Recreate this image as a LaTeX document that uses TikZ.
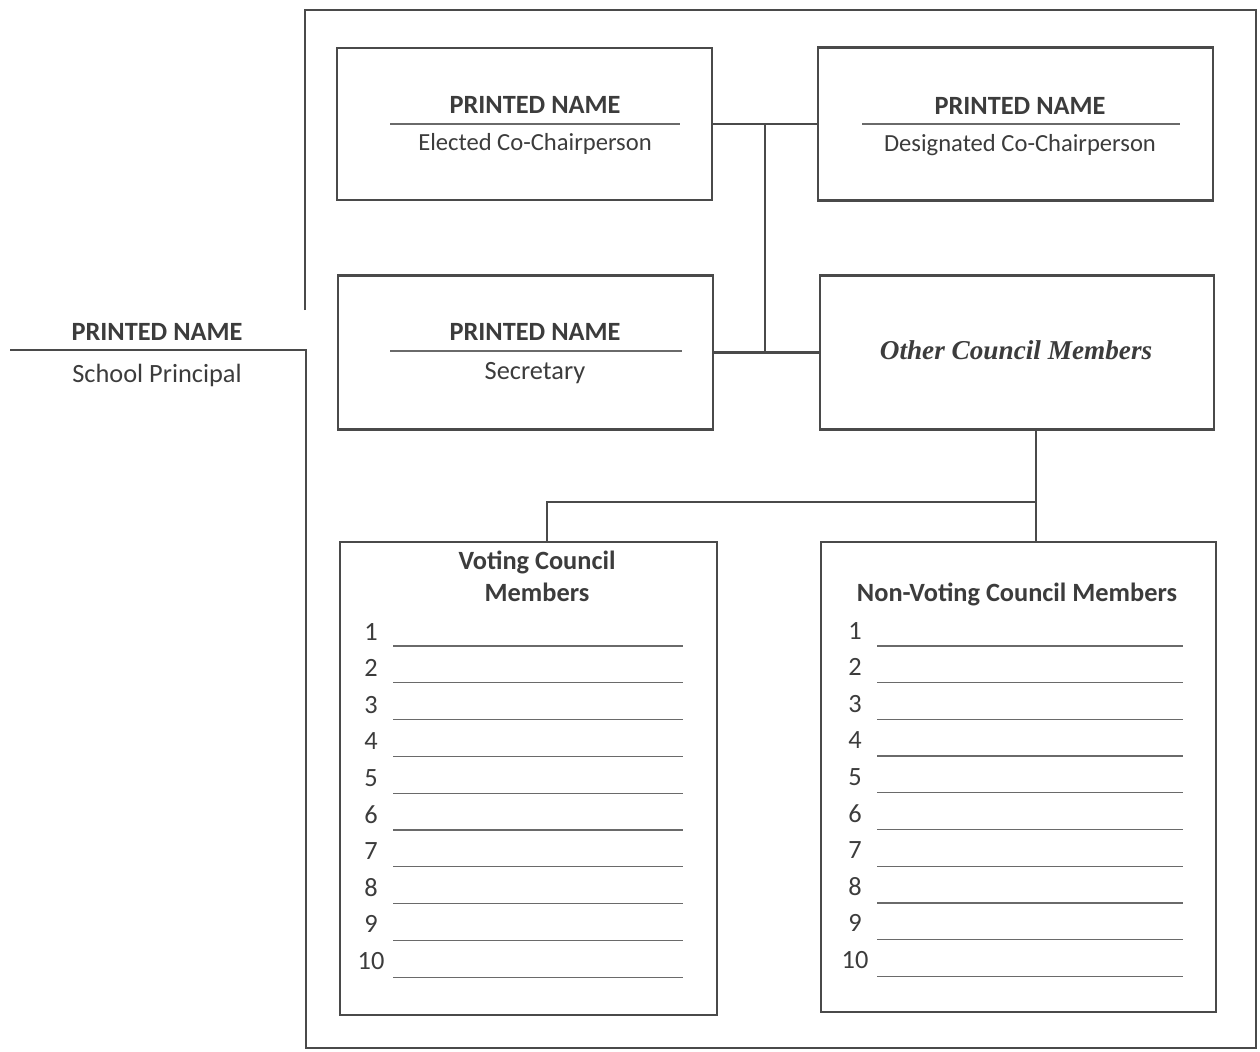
\documentclass[tikz,border=0pt]{standalone}
\usepackage{fontspec}
\setsansfont{Carlito}
\newfontfamily\otherfont{Liberation Serif}
\usetikzlibrary{calc}

\definecolor{ink}{HTML}{3C3C3C}
\definecolor{edge}{HTML}{4A4A4A}
\definecolor{faint}{HTML}{6A6A6A}

\begin{document}
\begin{tikzpicture}[x=0.02cm, y=-0.02cm,
	every node/.style={text=ink, inner sep=0pt},
	card/.style={draw=edge, line width=1.2pt},
	head/.style={anchor=base, font=\sffamily\bfseries\fontsize{15}{18}\selectfont},
	role/.style={anchor=base, font=\sffamily\fontsize{14}{17}\selectfont},
	num/.style={anchor=base, font=\sffamily\fontsize{15}{18}\selectfont},
	rule/.style={draw=faint, line width=0.8pt},
	blank/.style={draw=faint, line width=0.7pt},
	link/.style={draw=edge, line width=1.3pt}]

	\useasboundingbox (0, 0) rectangle (1260, 1051);

	% Outer frame w/ principal line

	\draw [link, line width=1pt] (305, 310) -- (305, 10) -- (1256, 10) -- (1256, 1048) -- (306, 1048) -- (306, 350) -- (10, 350);
	\node [head] (princname) at (157, 340) {PRINTED NAME};
	\node [role, font=\sffamily\fontsize{15}{18}\selectfont] (princrole) at (157, 382) {School Principal};

	% Name cards

	\node [card, minimum width=7.5cm, minimum height=3.04cm] (elected) at (524.5, 124) {};
	\node [head] (electedname) at (535, 113) {PRINTED NAME};
	\node [role] (electedrole) at (535, 150) {Elected Co-Chairperson};
	\draw [rule] (390, 124) -- (680, 124);

	\node [card, minimum width=7.9cm, minimum height=3.06cm] (designated) at (1015.5, 124) {};
	\node [head] (designatedname) at (1020, 114) {PRINTED NAME};
	\node [role] (designatedrole) at (1020, 151) {Designated Co-Chairperson};
	\draw [rule] (862, 124) -- (1180, 124);

	\node [card, minimum width=7.5cm, minimum height=3.08cm] (secretary) at (525.5, 352.5) {};
	\node [head] (secretaryname) at (535, 340) {PRINTED NAME};
	\node [role, font=\sffamily\fontsize{15}{18}\selectfont] (secretaryrole) at (535, 379) {Secretary};
	\draw [rule] (390, 351) -- (682, 351);

	\node [card, minimum width=7.88cm, minimum height=3.08cm] (other) at (1017, 352.5) {};
	\node [anchor=base, font=\otherfont\bfseries\itshape\fontsize{15.5}{18}\selectfont] (othertext) at (1016, 359) {Other Council Members};

	% Member lists

	\node [card, minimum width=7.54cm, minimum height=9.46cm] (voting) at (528.5, 778.5) {};
	\node [head] (votingtop) at (537, 569) {Voting Council};
	\node [head] (votingbot) at (537, 601) {Members};

	\node [card, minimum width=7.9cm, minimum height=9.4cm] (nonvoting) at (1018.5, 777) {};
	\node [head] (nonvotingtitle) at (1017, 601) {Non-Voting Council Members};

	\foreach \i in {1,...,10} {
		\node [num] (vnum\i) at (371, {640+36.6*(\i-1)}) {\i};
		\draw [blank] (393, {646+36.8*(\i-1)}) -- (683, {646+36.8*(\i-1)});
		\node [num] (nnum\i) at (855, {639+36.6*(\i-1)}) {\i};
		\draw [blank] (877, {646+36.7*(\i-1)}) -- (1183, {646+36.7*(\i-1)});
	}

	% Connectors

	\draw [link] (elected.east) -- (designated.west);
	\draw [link] (secretary.east) -- (other.west);
	\coordinate (spine) at ($(elected.east)!0.5!(designated.west)$);
	\draw [link] (spine) -- (spine |- secretary.east);

	\coordinate (fork) at (1036, 502);
	\coordinate (drop) at (547, 502);
	\draw [link] (other.south -| fork) -- (nonvoting.north -| fork);
	\draw [link] (fork) -- (drop) -- (drop |- voting.north);

\end{tikzpicture}
\end{document}
